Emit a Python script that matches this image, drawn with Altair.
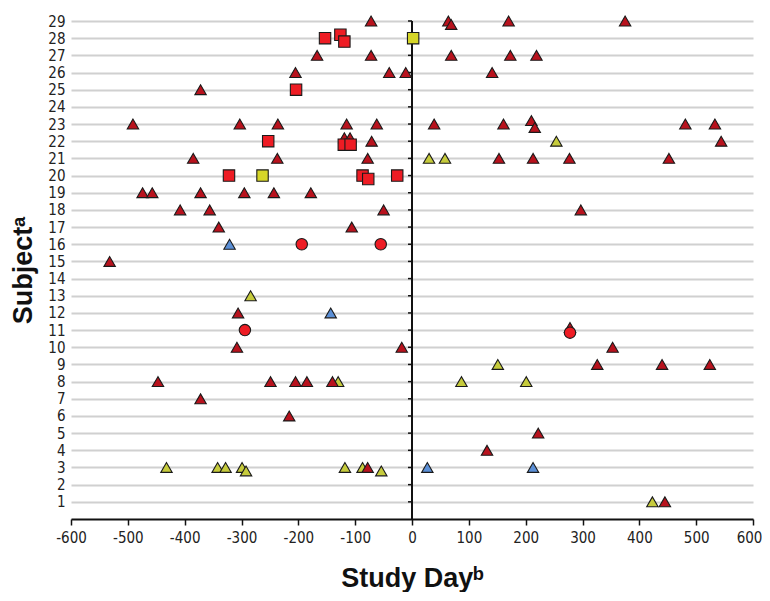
import altair as alt
import pandas as pd

# ---- data (study day, subject row) ----
red_tri_day = [-72, 64, 69, 170, 375,
               -167, -72, 69, 173, 219,
               -205, -40, -11, 141,
               -372,
               -491, -303, -236, -115, -62, 39, 161, 210, 216, 481, 533,
               -119, -109, -71, 544,
               -385, -237, -78, 153, 213, 277, 452,
               -474, -457, -372, -295, -243, -178,
               -408, -356, -50, 297,
               -340, -106,
               -532,
               -306,
               278,
               -308, -18, 353,
               326, 440, 524,
               -447, -249, -205, -185, -140,
               -372,
               -216,
               222,
               132,
               -78,
               445]
red_tri_subj = [29, 29, 28.8, 29, 29,
                27, 27, 27, 27, 27,
                26, 26, 26, 26,
                25,
                23, 23, 23, 23, 23, 23, 23, 23.2, 22.8, 23, 23,
                22.2, 22.2, 22, 22,
                21, 21, 21, 21, 21, 21, 21,
                19, 19, 19, 19, 19, 19,
                18, 18, 18, 18,
                17, 17,
                15,
                12,
                11.15,
                10, 10, 10,
                9, 9, 9,
                8, 8, 8, 8, 8,
                7,
                6,
                5,
                4,
                3,
                1]

red_sq_day = [-153, -126, -119, -204, -253, -120, -108, -322, -87, -77, -26]
red_sq_subj = [28, 28.2, 27.8, 25, 22, 21.8, 21.8, 20, 20, 19.8, 20]

red_circ_day = [-194, -55, -294, 278]
red_circ_subj = [16, 16, 11, 10.85]

yel_tri_day = [254, 30, 58, -284, 151, -130, 87, 201,
               -432, -342, -328, -299, -292, -118, -87, -54, 423]
yel_tri_subj = [22, 21, 21, 13, 9, 8, 8, 8,
                3, 3, 3, 3, 2.8, 3, 3, 2.8, 1]

yel_sq_day = [2, -263]
yel_sq_subj = [28, 20]

blue_tri_day = [-321, -143, 27, 213]
blue_tri_subj = [16, 12, 3, 3]

subjects = list(range(1, 30))
x_ticks = list(range(-600, 601, 100))

kinds = ["yel_tri", "blue_tri", "red_tri", "yel_sq", "red_sq", "red_circ"]
kind_shapes = ["triangle-up", "triangle-up", "triangle-up", "square", "square", "circle"]
kind_colors = ["#c6cb3c", "#5b8fd6", "#b8121d", "#d6d628", "#ee1c24", "#ee1c24"]
kind_sizes = [130, 130, 130, 145, 145, 125]

rows = []
for kind, days, subs in [
    ("yel_tri", yel_tri_day, yel_tri_subj),
    ("blue_tri", blue_tri_day, blue_tri_subj),
    ("red_tri", red_tri_day, red_tri_subj),
    ("yel_sq", yel_sq_day, yel_sq_subj),
    ("red_sq", red_sq_day, red_sq_subj),
    ("red_circ", red_circ_day, red_circ_subj),
]:
    for d, s in zip(days, subs):
        rows.append({"day": d, "subject": s, "kind": kind})
df = pd.DataFrame(rows)
df["order"] = df["kind"].map({k: i for i, k in enumerate(kinds)})

FONT = "DejaVu Sans Condensed, Liberation Sans Narrow, Liberation Sans, sans-serif"
TFONT = "Liberation Sans, Arial, sans-serif"

x_enc = alt.X(
    "day:Q",
    scale=alt.Scale(domain=[-600, 600], nice=False, zero=False),
    axis=alt.Axis(
        values=x_ticks, grid=False, domainColor="#111", domainWidth=2,
        tickColor="#111", tickWidth=1.5, tickSize=6,
        labelFont=FONT, labelFontSize=15, labelColor="#222", labelPadding=5,
        labelFlush=False, labelExpr="toString(datum.value)",
        labelOffset={"expr": "datum.value == 600 ? -4 : 0"},
        title="Study Dayᵇ", titleFont=TFONT,
        titleFontSize=27, titleFontWeight="bold", titleColor="#111",
        titleBaseline="alphabetic", titleY=67,
    ),
)
y_enc = alt.Y(
    "subject:Q",
    scale=alt.Scale(domain=[0, 29], nice=False, zero=True),
    axis=alt.Axis(
        values=subjects, grid=True, gridColor="#d0d0d0", gridWidth=1.8,
        domain=False, ticks=False,
        labelFont=FONT, labelFontSize=15, labelColor="#222", labelPadding=6,
        title="Subjectᵃ", titleFont=TFONT,
        titleFontSize=27, titleFontWeight="bold", titleColor="#111",
        titleAngle=270, titleBaseline="alphabetic", titleAlign="center",
        titleX=-40, titleY=249,
    ),
)

zero_df = pd.DataFrame({"day": [0]})
zero_line = alt.Chart(zero_df).mark_rule(color="#111", strokeWidth=2).encode(x=x_enc)

tick_df = pd.DataFrame({"day": [-7] * len(subjects), "day2": [0] * len(subjects), "subject": subjects})
zero_ticks = alt.Chart(tick_df).mark_rule(color="#111", strokeWidth=1.5).encode(
    x=x_enc, x2="day2:Q", y=y_enc
)

points = alt.Chart(df).mark_point(filled=True, stroke="#1a1a1a", strokeWidth=1.1, opacity=1).encode(
    x=x_enc,
    y=y_enc,
    shape=alt.Shape("kind:N", scale=alt.Scale(domain=kinds, range=kind_shapes), legend=None),
    fill=alt.Fill("kind:N", scale=alt.Scale(domain=kinds, range=kind_colors), legend=None),
    size=alt.Size("kind:N", scale=alt.Scale(domain=kinds, range=kind_sizes), legend=None),
    order="order:Q",
)

chart = alt.layer(zero_ticks, zero_line, points).properties(
    width=682, height=498,
    autosize=alt.AutoSizeParams(type="none"),
    padding={"left": 63, "top": 13, "right": 9, "bottom": 73},
).configure_view(stroke=None)

chart.save("out.html", embed_options={"renderer": "svg", "actions": False})
